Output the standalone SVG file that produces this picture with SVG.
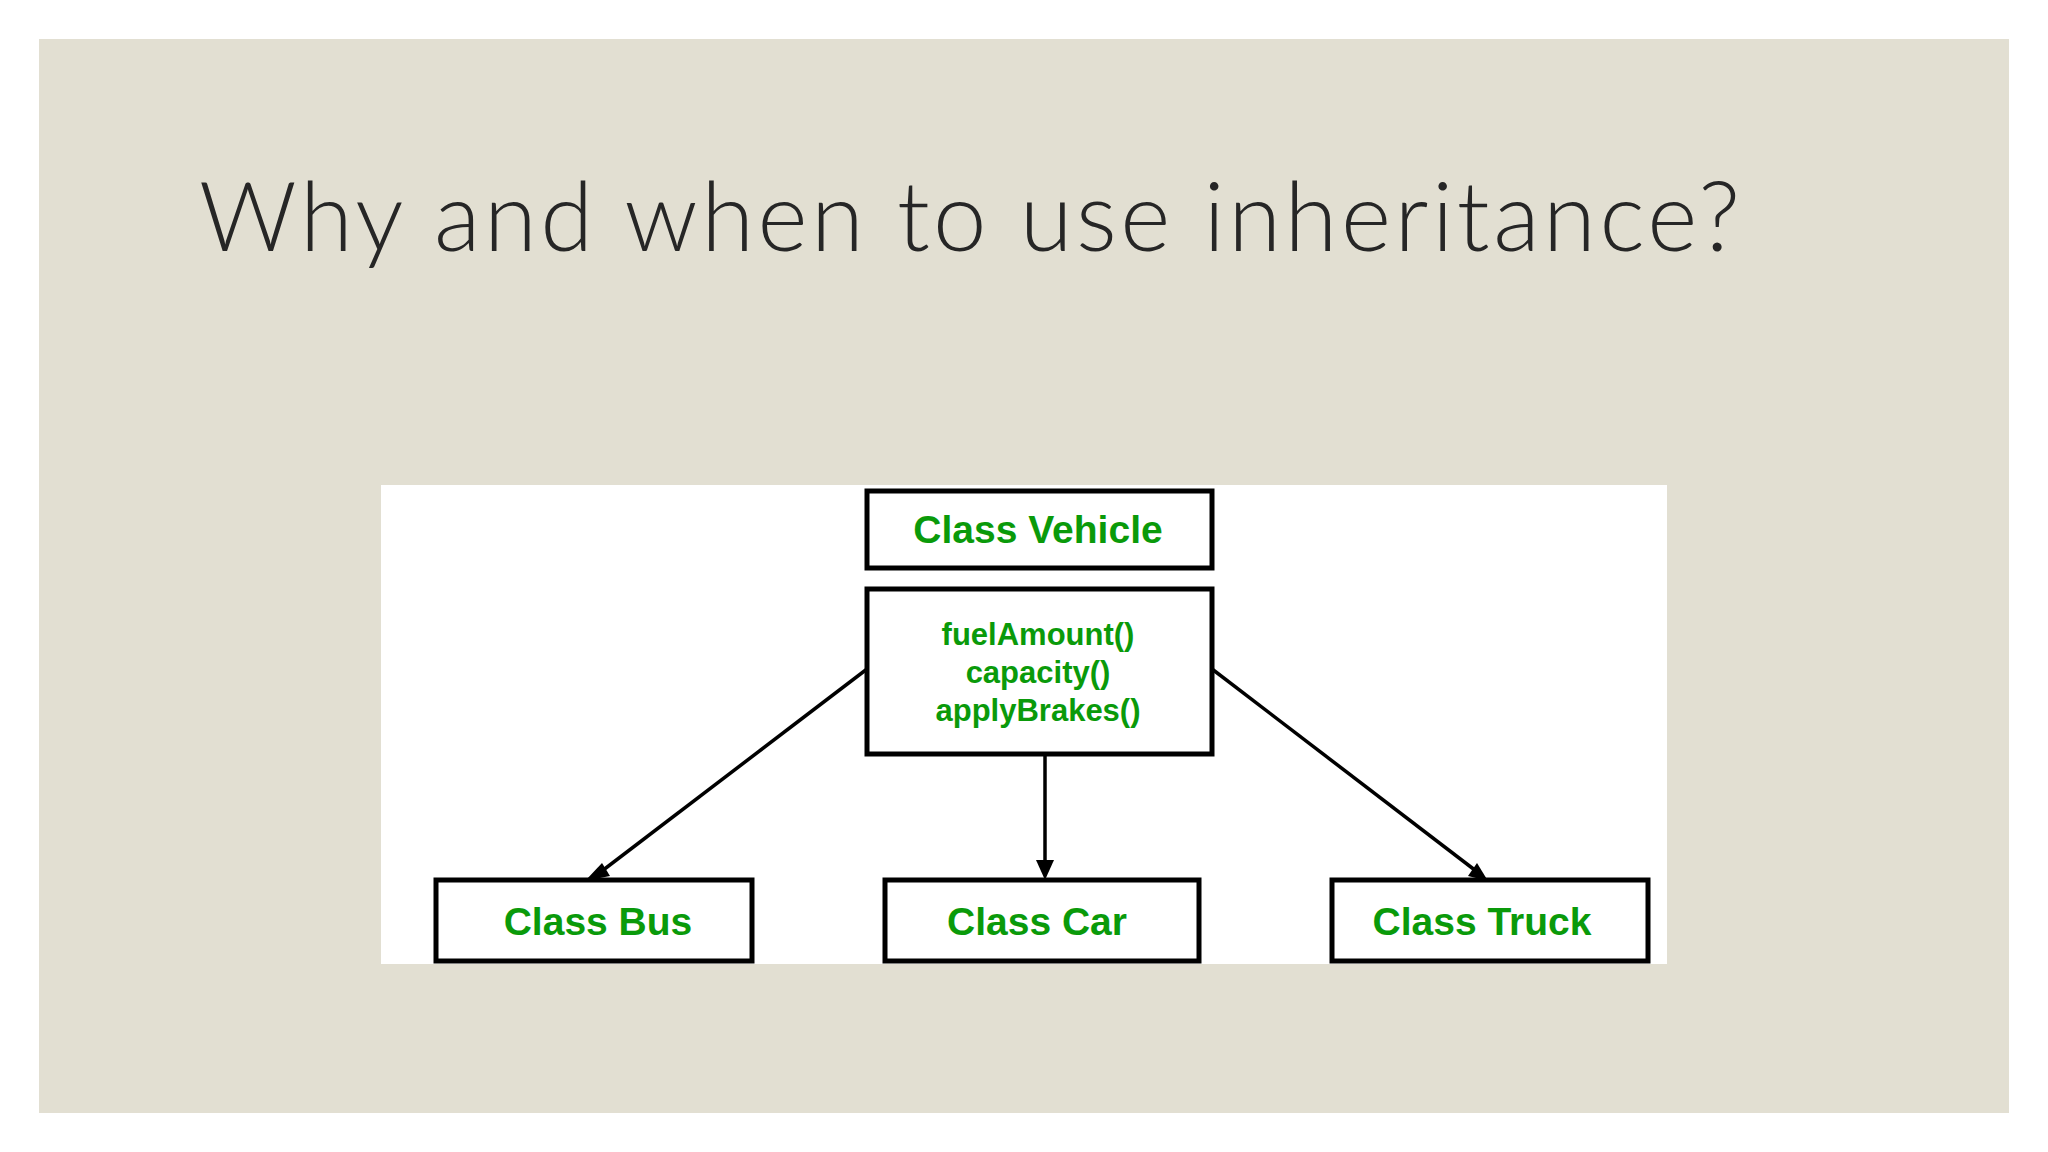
<svg xmlns="http://www.w3.org/2000/svg" width="2048" height="1152" viewBox="0 0 2048 1152">
<defs>
<style>
.box{fill:#fff;stroke:#000;stroke-width:5}
.lbl{font-family:"Liberation Sans",Arial,sans-serif;font-weight:bold;fill:#0a9a0a;text-anchor:middle}
.con{stroke:#000;stroke-width:3.5;fill:none}
</style>
<marker id="ah" viewBox="0 0 10 10" refX="10" refY="5" markerWidth="7" markerHeight="7" markerUnits="userSpaceOnUse" orient="auto" style="overflow:visible">
<path d="M0,0 L10,5 L0,10 z" fill="#000" transform="scale(2.6) translate(-6,-3.1)"/>
</marker>
</defs>
<rect width="2048" height="1152" fill="#fff"/>
<rect x="39" y="39" width="1970" height="1074" fill="#e2dfd2"/>
<text x="199" y="251" font-family="Lato, 'Open Sans', sans-serif" font-weight="300" font-size="96" fill="#262626" textLength="1541">Why and when to use inheritance?</text>
<rect x="381" y="485" width="1286" height="479" fill="#fff"/>
<g id="connectors">
<path class="con" d="M867,669 L598,874"/>
<path class="con" d="M1045,754 L1045,872"/>
<path class="con" d="M1212,669 L1480,874"/>
<path d="M585,881 L602,863 L610,876 z" fill="#000"/>
<path d="M1045,880 L1036,860 L1054,860 z" fill="#000"/>
<path d="M1488,881 L1468,876 L1477,863 z" fill="#000"/>
</g>
<g id="vehicle"><rect class="box" x="867" y="491" width="345" height="77"/><text class="lbl" x="1038" y="543" font-size="39">Class Vehicle</text></g>
<g id="methods"><rect class="box" x="867" y="589" width="345" height="165"/>
<text class="lbl" x="1038" y="645" font-size="31">fuelAmount()</text>
<text class="lbl" x="1038" y="683" font-size="31">capacity()</text>
<text class="lbl" x="1038" y="721" font-size="31">applyBrakes()</text></g>
<g id="bus"><rect class="box" x="436" y="880" width="316" height="81"/><text class="lbl" x="598" y="935" font-size="39">Class Bus</text></g>
<g id="car"><rect class="box" x="885" y="880" width="314" height="81"/><text class="lbl" x="1037" y="935" font-size="39">Class Car</text></g>
<g id="truck"><rect class="box" x="1332" y="880" width="316" height="81"/><text class="lbl" x="1482" y="935" font-size="39">Class Truck</text></g>
</svg>
